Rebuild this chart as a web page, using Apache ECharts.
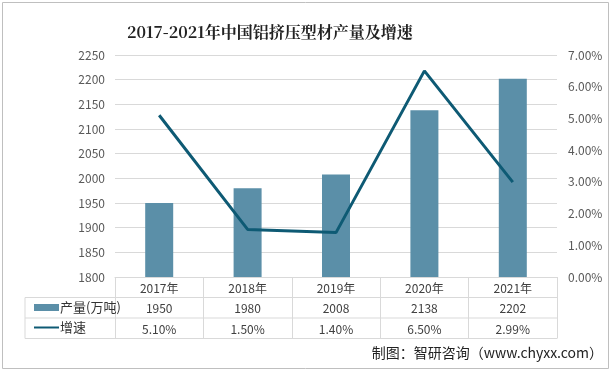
<!DOCTYPE html>
<html><head><meta charset="utf-8">
<script src="https://cdn.jsdelivr.net/npm/echarts@6/dist/echarts.min.js"></script>
<style>html,body{margin:0;padding:0;background:#fff}#c{width:611px;height:372px}</style>
</head><body><div id="c"></div>
<script>
var categories = ['2017年','2018年','2019年','2020年','2021年'];
var production = [1950, 1980, 2008, 2138, 2202];
var growth = [0.051, 0.015, 0.014, 0.065, 0.0299];
var leftTicks = {min: 1800, max: 2250, interval: 50};
var rightTicks = {min: 0, max: 0.07, interval: 0.01};
var titleText = '2017-2021年中国铝挤压型材产量及增速';
var sourceText = '制图：智研咨询（www.chyxx.com）';

var G = {left: 115, right: 54, top: 55, bottom: 95};
var W = 611, H = 372;
var plotBottom = H - G.bottom, plotRight = W - G.right;
var rowH = 20.5;
var tableLeft = 25;
var font = '"Noto Sans CJK SC", sans-serif';
var pct = function (v) { return (v * 100).toFixed(2) + '%'; };
var lineC = '#d9d9d9';
var lbl = {color: '#404040', fontSize: 12, margin: 5, fontFamily: font};

var chart = echarts.init(document.getElementById('c'), null, {renderer: 'canvas'});
chart.setOption({
  backgroundColor: '#fff',
  animation: false,
  textStyle: {fontFamily: font},
  title: {
    text: titleText, left: 122, top: 19,
    textStyle: {fontSize: 16, fontWeight: 'bold', color: '#222', fontFamily: '"Noto Serif CJK SC", "Noto Sans CJK SC", serif'}
  },
  grid: {left: G.left, right: G.right, top: G.top, bottom: G.bottom},
  legend: {
    orient: 'vertical', left: 28, top: plotBottom + rowH - 2,
    itemWidth: 25, itemHeight: 7, itemGap: 6,
    textStyle: {fontSize: 13, color: '#333', lineHeight: 14, padding: [0, 0, 0, -4], fontFamily: font},
    data: [{name: '产量(万吨)', icon: 'rect'}, {name: '增速', itemStyle: {opacity: 0}}]
  },
  xAxis: [
    {type: 'category', data: categories, gridIndex: 0,
     axisLine: {lineStyle: {color: lineC}},
     axisTick: {show: true, length: 3 * rowH, interval: 0, lineStyle: {color: lineC}},
     axisLabel: lbl},
    {type: 'category', data: production.map(String), position: 'bottom', offset: rowH,
     axisLine: {show: false}, axisTick: {show: false}, axisLabel: lbl},
    {type: 'category', data: growth.map(pct), position: 'bottom', offset: 2 * rowH,
     axisLine: {show: false}, axisTick: {show: false}, axisLabel: lbl}
  ],
  yAxis: [
    {type: 'value', min: leftTicks.min, max: leftTicks.max, interval: leftTicks.interval,
     axisLine: {show: false}, axisTick: {show: false},
     axisLabel: {color: '#595959', fontSize: 12, margin: 10, fontFamily: font, formatter: function (v) { return String(v); }},
     splitLine: {lineStyle: {color: lineC}}},
    {type: 'value', min: rightTicks.min, max: rightTicks.max, interval: rightTicks.interval,
     axisLine: {show: false}, axisTick: {show: false},
     axisLabel: {color: '#595959', fontSize: 12, margin: 11, fontFamily: font, formatter: pct},
     splitLine: {show: false}}
  ],
  series: [
    {name: '产量(万吨)', type: 'bar', data: production, barWidth: 28,
     itemStyle: {color: '#5b8fa8'}},
    {name: '增速', type: 'line', yAxisIndex: 1, data: growth, symbol: 'none',
     lineStyle: {color: '#0e5a74', width: 3}, itemStyle: {color: '#0e5a74'}}
  ],
  graphic: [
    {type: 'rect', shape: {x: 2.5, y: 2.5, width: W - 5, height: H - 6}, style: {fill: null, stroke: '#bfbfbf', lineWidth: 1}, silent: true},
    {type: 'line', shape: {x1: tableLeft, y1: plotBottom + rowH, x2: plotRight, y2: plotBottom + rowH}, style: {stroke: lineC, lineWidth: 1}},
    {type: 'line', shape: {x1: tableLeft, y1: plotBottom + 2 * rowH, x2: plotRight, y2: plotBottom + 2 * rowH}, style: {stroke: lineC, lineWidth: 1}},
    {type: 'line', shape: {x1: tableLeft, y1: plotBottom + 3 * rowH, x2: plotRight, y2: plotBottom + 3 * rowH}, style: {stroke: lineC, lineWidth: 1}},
    {type: 'line', shape: {x1: tableLeft, y1: plotBottom + rowH, x2: tableLeft, y2: plotBottom + 3 * rowH}, style: {stroke: lineC, lineWidth: 1}},
    {type: 'text', right: 8, top: 346, style: {text: sourceText, font: '14px ' + font, fill: '#222'}}
  ]
});
</script></body></html>
